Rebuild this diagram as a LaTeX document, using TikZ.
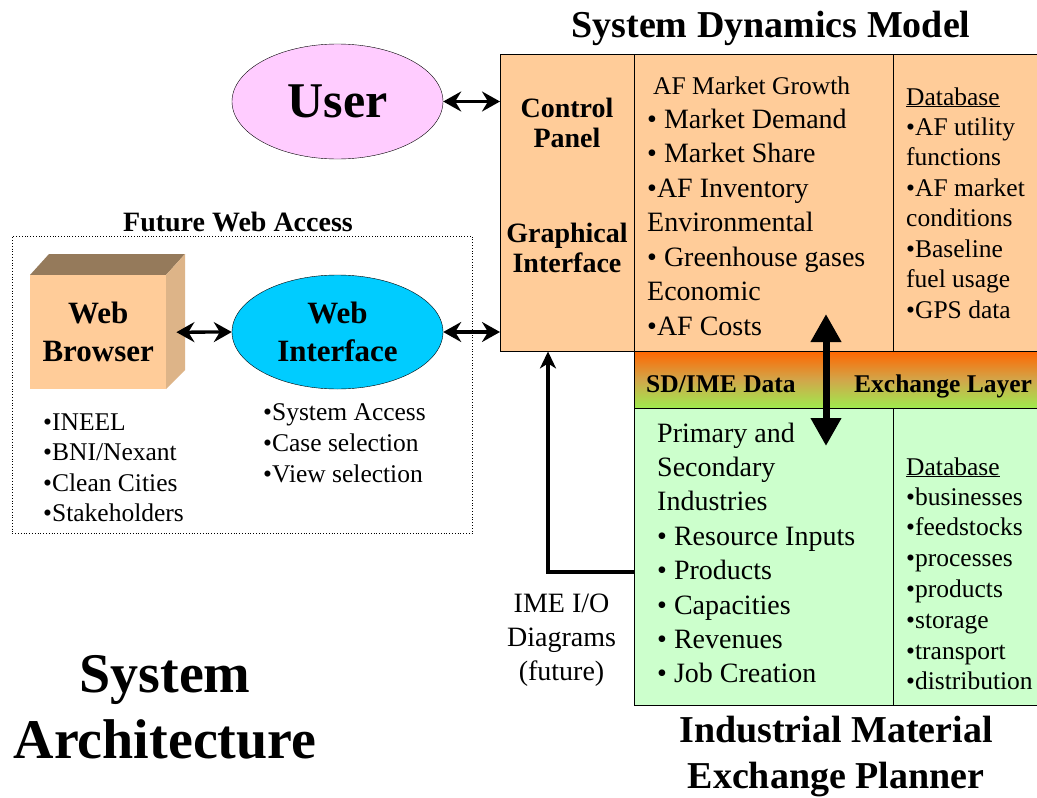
\documentclass[tikz,border=0pt]{standalone}
\usepackage{fontspec}
\setmainfont{Liberation Serif}
\usetikzlibrary{arrows.meta,shapes.geometric}
\definecolor{peach}{HTML}{FFCC99}
\definecolor{mint}{HTML}{CCFFCC}
\definecolor{pinkU}{HTML}{FFCCFF}
\definecolor{cyanW}{HTML}{00CCFF}
\definecolor{topface}{HTML}{957A5B}
\definecolor{sideface}{HTML}{DDB488}
\definecolor{exTop}{HTML}{FF6600}
\definecolor{exMid}{HTML}{D2A64A}
\definecolor{exBot}{HTML}{9EEB4E}
\begin{document}
\begin{tikzpicture}[x=1pt,y=-1pt,
  rm/.style={inner sep=0pt, anchor=base west, font=\fontsize{#1}{#1}\selectfont},
  bfc/.style={inner sep=0pt, anchor=base, font=\bfseries\fontsize{#1}{#1}\selectfont},
  rmc/.style={inner sep=0pt, anchor=base, font=\fontsize{#1}{#1}\selectfont},
  dbl/.style={line width=3.3pt, {Stealth[length=18pt,width=20pt,inset=6pt]}-{Stealth[length=18pt,width=20pt,inset=6pt]}},
]
\useasboundingbox (0,0) rectangle (1037,798);
\fill[white] (0,0) rectangle (1037,798);

% titles
\node[bfc=38] (tsdm) at (771,37) {System Dynamics Model};
\node[bfc=38] (time1) at (836,742) {Industrial Material};
\node[bfc=38] (time2) at (836,788) {Exchange Planner};
\node[bfc=56] (tsa1) at (165,692) {System};
\node[bfc=56] (tsa2) at (165,758) {Architecture};
\node[bfc=28] (tfwa) at (238,231) {Future Web Access};

% future web access box
\node[draw, dotted, line width=0.8pt, minimum width=460pt, minimum height=297pt, inner sep=0, anchor=north west] (fwabox) at (12,236) {};

% web browser cube
\fill[topface] (30,275) -- (49,254) -- (185,254) -- (166,275) -- cycle;
\fill[sideface] (166,275) -- (185,254) -- (185,370) -- (166,389) -- cycle;
\node[fill=peach, minimum width=136pt, minimum height=114pt, inner sep=0, anchor=north west, align=center, font=\bfseries\fontsize{31}{38}\selectfont] (browser) at (30,275) {Web\\Browser};

% ellipses
\node[ellipse, draw, fill=pinkU, minimum width=211pt, minimum height=115pt, inner sep=0, font=\bfseries\fontsize{50}{50}\selectfont] (user) at (337.5,101.5) {User};
\node[ellipse, draw, fill=cyanW, minimum width=211pt, minimum height=114pt, inner sep=0, align=center, font=\bfseries\fontsize{31}{38}\selectfont] (webif) at (337.5,332) {Web\\Interface};

% bullet lists left
\foreach \s [count=\i from 0] in {{•INEEL},{•BNI/Nexant},{•Clean Cities},{•Stakeholders}}
  \node[rm=25.5] (wb\i) at (43,430+30.5*\i) {\s};
\foreach \s [count=\i from 0] in {{•System Access},{•Case selection},{•View selection}}
  \node[rm=25.5] (wi\i) at (263,420+31*\i) {\s};

% system dynamics model box
\node[draw, fill=peach, minimum width=540pt, minimum height=297pt, inner sep=0, anchor=north west] (sdm) at (500,54) {};
\draw (634,54) -- (634,351);
\draw (893,54) -- (893,351);

% exchange layer
\node[draw, top color=exTop, bottom color=exBot, middle color=exMid, minimum width=406pt, minimum height=57pt, inner sep=0, anchor=north west] (xl) at (634,351) {};
% IME box
\node[draw, fill=mint, minimum width=406pt, minimum height=297pt, inner sep=0, anchor=north west] (ime) at (634,408) {};
\draw (893,408) -- (893,705);

% control column
\node[bfc=28] (cp1) at (567,117) {Control};
\node[bfc=28] (cp2) at (567,147) {Panel};
\node[bfc=28] (gi1) at (567,242) {Graphical};
\node[bfc=28] (gi2) at (567,272) {Interface};

% middle column
\node[rm=25.5] (mg) at (653,94) {AF Market Growth};
\foreach \s [count=\i from 0] in {{• Market Demand},{• Market Share},{•AF Inventory},{Environmental},{• Greenhouse gases},{Economic},{•AF Costs}}
  \node[rm=28] (mc\i) at (647,128+34.5*\i) {\s};

% database column top
\node[rm=25.5] (db1h) at (906,105) {\underline{Database}};
\foreach \s [count=\i from 0] in {{•AF utility},{functions},{•AF market},{conditions},{•Baseline},{fuel usage},{•GPS data}}
  \node[rm=25.5] (db1\i) at (906,135+30.5*\i) {\s};

% exchange layer text
\node[inner sep=0, anchor=base west, font=\bfseries\fontsize{25.5}{25.5}\selectfont] (xl1) at (646,392) {SD/IME Data};
\node[inner sep=0, anchor=base west, font=\bfseries\fontsize{25.5}{25.5}\selectfont] (xl2) at (854,392) {Exchange Layer};

% IME middle column
\foreach \s [count=\i from 0] in {{Primary and},{Secondary},{Industries},{• Resource Inputs},{• Products},{• Capacities},{• Revenues},{• Job Creation}}
  \node[rm=28] (ic\i) at (657,442+34.4*\i) {\s};

% database column bottom
\node[rm=25.5] (db2h) at (906,475) {\underline{Database}};
\foreach \s [count=\i from 0] in {{•businesses},{•feedstocks},{•processes},{•products},{•storage},{•transport},{•distribution}}
  \node[rm=25.5] (db2\i) at (906,505+30.8*\i) {\s};

% IME I/O label
\foreach \s [count=\i from 0] in {{IME I/O},{Diagrams},{(future)}}
  \node[rmc=28] (io\i) at (561.5,612+34*\i) {\s};

% connectors
\draw[dbl] (user.east) -- (user.east -| sdm.west);
\draw[dbl] (webif.east) -- (webif.east -| sdm.west);
\draw[dbl] ([xshift=10pt]browser.east) -- (webif.west);
\coordinate (ioc) at (548,572);
\draw[line width=3.2pt, -{Stealth[length=17pt,width=16pt,inset=5pt]}] (ime.west |- ioc) -- (ioc) -- (ioc |- sdm.south);
\coordinate (xa1) at (826,314);
\coordinate (xa2) at (826,446);
\draw[line width=7pt, {Triangle[width=29pt,length=28pt]}-{Triangle[width=29pt,length=28pt]}] (xa1) -- (xa2);
\end{tikzpicture}
\end{document}
